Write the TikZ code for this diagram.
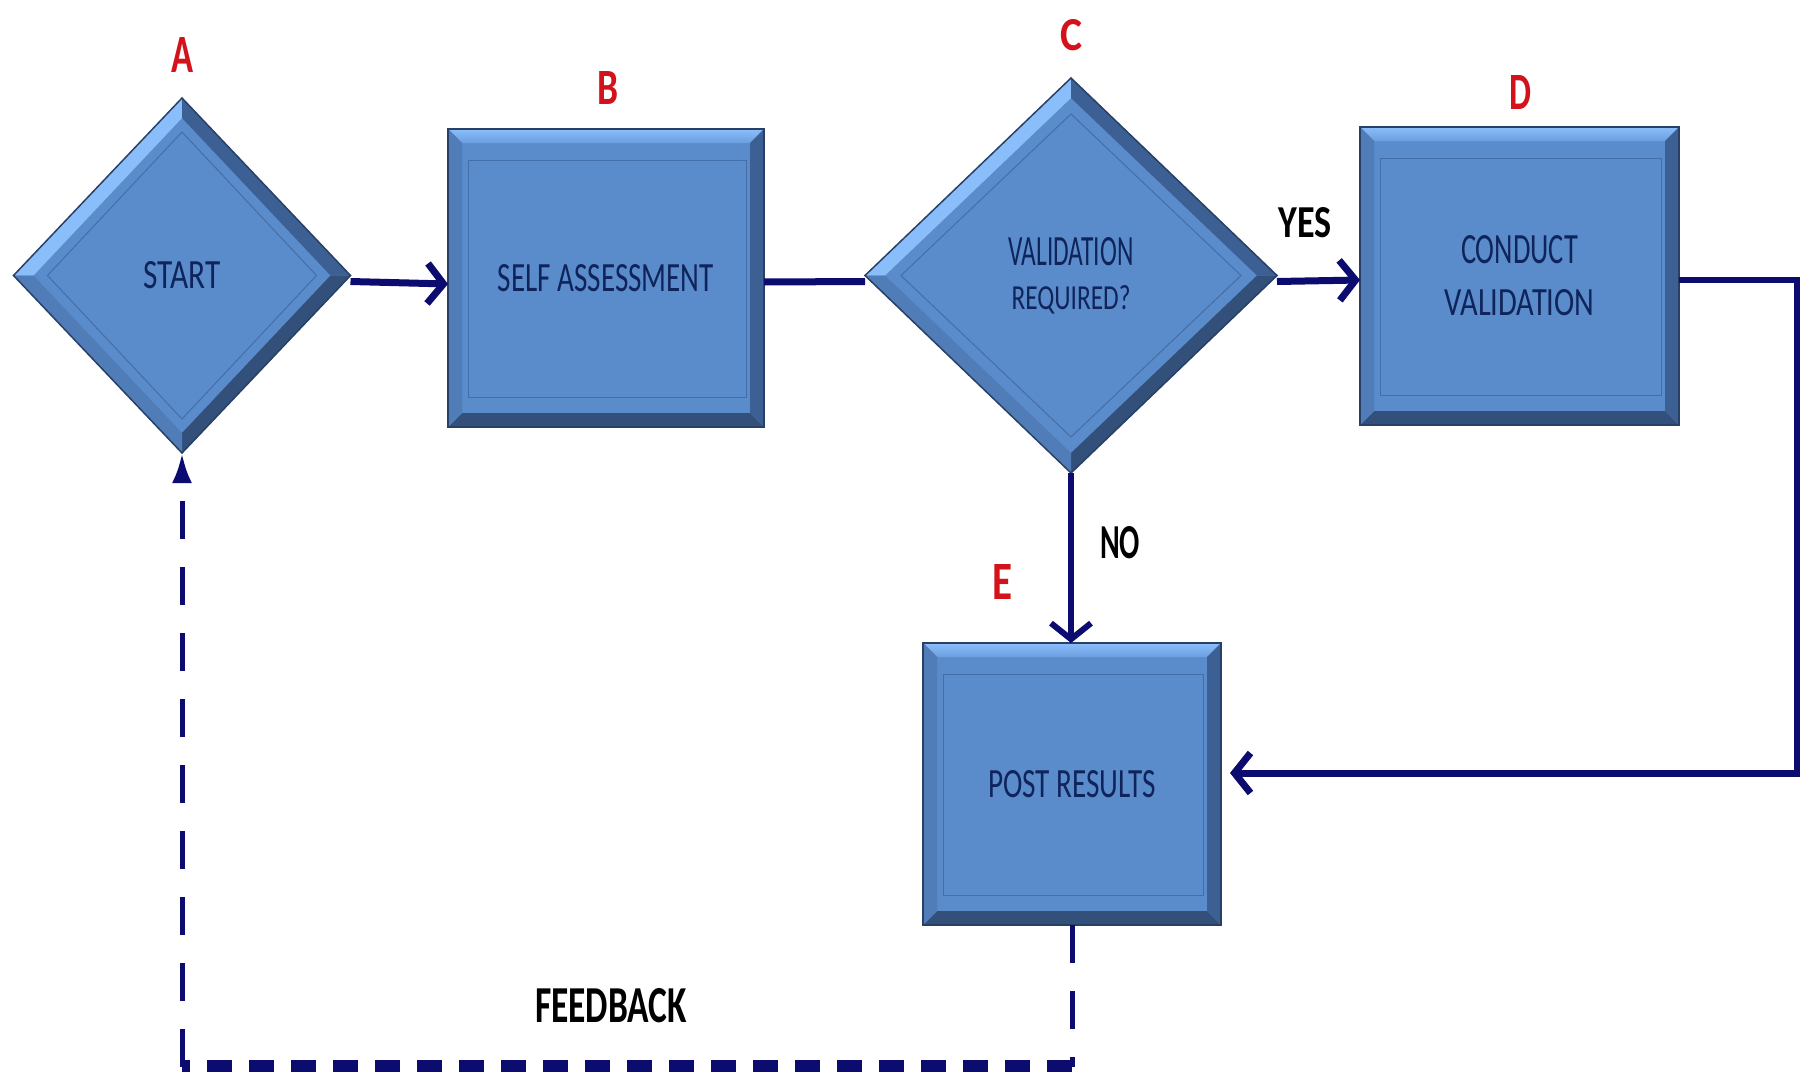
\documentclass[tikz,border=0pt]{standalone}
\usepackage{fontspec}
\setmainfont{Carlito}
\usetikzlibrary{shapes.geometric,arrows.meta,calc}
\definecolor{navy}{RGB}{12,12,112}
\definecolor{boxblue}{RGB}{90,139,202}
\definecolor{bevtopA}{RGB}{138,190,250}
\definecolor{bevtopB}{RGB}{108,158,224}
\definecolor{bevbot}{RGB}{50,80,122}
\definecolor{bevleft}{RGB}{80,124,184}
\definecolor{bevright}{RGB}{60,96,148}
\definecolor{inline}{RGB}{68,110,168}
\definecolor{outline}{RGB}{40,64,102}
\definecolor{txtblue}{RGB}{16,36,92}
\definecolor{lblred}{RGB}{212,18,28}
\newcommand{\fitt}[3]{\resizebox{#1pt}{#2pt}{#3}}
\newcommand{\rectbevel}[1]{%
  \shade[top color=bevtopA, bottom color=bevtopB] (#1.north west) -- (#1.north east) -- ($(#1.north east)+(-14,14)$) -- ($(#1.north west)+(14,14)$) -- cycle;
  \fill[bevbot] (#1.south west) -- (#1.south east) -- ($(#1.south east)+(-14,-14)$) -- ($(#1.south west)+(14,-14)$) -- cycle;
  \fill[bevleft] (#1.north west) -- ($(#1.north west)+(14,14)$) -- ($(#1.south west)+(14,-14)$) -- (#1.south west) -- cycle;
  \fill[bevright] (#1.north east) -- ($(#1.north east)+(-14,14)$) -- ($(#1.south east)+(-14,-14)$) -- (#1.south east) -- cycle;
  \draw[inline, line width=1pt] ($(#1.north west)+(20,31)$) rectangle ($(#1.south east)+(-18,-30)$);
  \draw[outline, line width=1.5pt] (#1.north west) rectangle (#1.south east);
}
\newcommand{\diabevel}[3]{%
  \fill[bevtopA] (#1.north) -- (#1.west) -- ($(#1.west)+(#2,0)$) -- ($(#1.north)+(0,#2)$) -- cycle;
  \fill[bevright] (#1.north) -- (#1.east) -- ($(#1.east)+(-#2,0)$) -- ($(#1.north)+(0,#2)$) -- cycle;
  \fill[bevbot] (#1.east) -- (#1.south) -- ($(#1.south)+(0,-#2)$) -- ($(#1.east)+(-#2,0)$) -- cycle;
  \fill[bevleft] (#1.south) -- (#1.west) -- ($(#1.west)+(#2,0)$) -- ($(#1.south)+(0,-#2)$) -- cycle;
  \draw[inline, line width=1pt] ($(#1.north)+(0,#3)$) -- ($(#1.east)+(-#3,0)$) -- ($(#1.south)+(0,-#3)$) -- ($(#1.west)+(#3,0)$) -- cycle;
  \draw[outline, line width=1.5pt] (#1.north) -- (#1.east) -- (#1.south) -- (#1.west) -- cycle;
}
\tikzset{
  rectbox/.style={rectangle, fill=boxblue, inner sep=0pt, outer sep=0pt, text=txtblue, align=center},
  diabox/.style={diamond, fill=boxblue, inner sep=0pt, outer sep=0pt, text=txtblue, align=center},
  conn/.style={draw=navy, line width=7pt},
  arrowend/.style={-{Straight Barb[length=16pt,width=40pt]}},
  fb/.style={draw=navy, line width=5pt, dash pattern=on 38pt off 28pt},
  fbbottom/.style={draw=navy, line width=14pt, dash pattern=on 25pt off 17pt},
  lbl/.style={text=lblred, inner sep=0pt, font=\bfseries},
  edgetext/.style={text=black, inner sep=0pt, font=\bfseries}
}
\begin{document}
\begin{tikzpicture}[x=1pt,y=-1pt]
\useasboundingbox[fill=white] (0,0) rectangle (1801,1071);

% shapes
\node[diabox, minimum width=337pt, minimum height=355pt] (A) at (182,275.5) {\fitt{77}{27}{START}};
\diabevel{A}{20}{34}
\node[rectbox, minimum width=316pt, minimum height=298pt] (B) at (606,278) {\fitt{216}{27}{SELF ASSESSMENT}};
\rectbevel{B}
\node[diabox, minimum width=412pt, minimum height=395pt, font=\fontsize{10}{44}\selectfont] (C) at (1071,275.5) {\fitt{125}{28}{VALIDATION}\\\fitt{119}{24}{REQUIRED?}};
\diabevel{C}{20}{36}
\node[rectbox, minimum width=319pt, minimum height=298pt, font=\fontsize{10}{52}\selectfont] (D) at (1519.5,276) {\fitt{117}{28}{CONDUCT}\\\fitt{150}{26}{VALIDATION}};
\rectbevel{D}
\node[rectbox, minimum width=298pt, minimum height=282pt] (E) at (1072,784) {\fitt{168}{27}{POST RESULTS}};
\rectbevel{E}

% letter labels
\node[lbl] (la) at (182,55) {\fitt{22}{35}{A}};
\node[lbl] (lb) at (608,88) {\fitt{21}{33}{B}};
\node[lbl] (lc) at (1071,35) {\fitt{22}{31}{C}};
\node[lbl] (ld) at (1520,92) {\fitt{22}{34}{D}};
\node[lbl] (le) at (1002,582) {\fitt{20}{35}{E}};

% connector labels
\node[edgetext] (yes) at (1305,223) {\fitt{53}{30}{YES}};
\node[edgetext] (no) at (1120,543) {\fitt{40}{32}{NO}};
\node[edgetext] (feedback) at (611,1006) {\fitt{152}{34}{FEEDBACK}};

% coordinates
\coordinate (R1) at (1797,280);
\coordinate (R2) at (1797,773);
\coordinate (F1) at (1072,1067);
\coordinate (F2) at (182,1067);

% connectors
\draw[conn, arrowend] ([yshift=-6pt]A.east) -- ([yshift=-6pt]B.west);
\draw[conn] ([yshift=-4pt]B.east) -- ([yshift=-6pt]C.west);
\draw[conn, arrowend] ([yshift=-6pt]C.east) -- ([yshift=-4pt]D.west);
\draw[conn, line width=6pt, arrowend] (C.south) -- (C.south |- E.north);
\draw[conn, line width=6pt] ([yshift=-4pt]D.east) -- (R1) -- (R2);
\draw[conn, arrowend] ([xshift=3pt]R2) -- ([xshift=9pt,yshift=11pt]E.east);

% feedback loop
\draw[fb] (E.south) -- (F1);
\draw[fbbottom] (F1) -- (F2);
\draw[fb, -{Latex[length=30pt,width=20pt]}] (F2) -- (A.south);
\end{tikzpicture}
\end{document}
